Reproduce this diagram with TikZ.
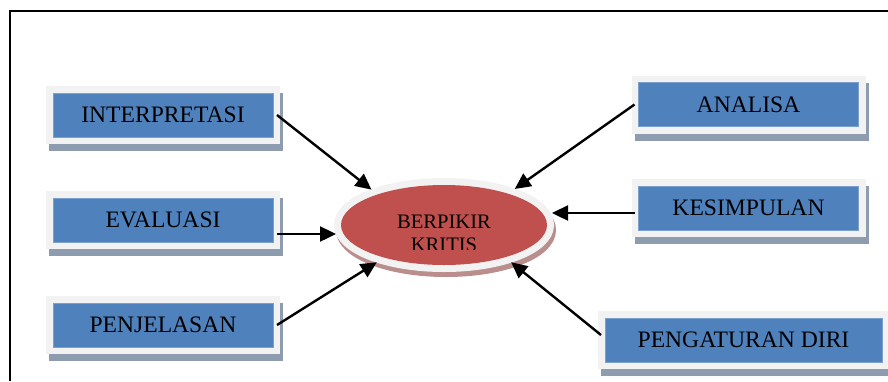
\documentclass[tikz,border=0pt]{standalone}
\usepackage{fontspec}
\setmainfont{Liberation Serif}
\usetikzlibrary{arrows.meta,shapes.geometric,shadows}

\definecolor{boxblue}{HTML}{4F81BD}
\definecolor{rimgray}{HTML}{F2F2F2}
\definecolor{boxshadow}{HTML}{8E9CB0}
\definecolor{kritred}{HTML}{C0504D}
\definecolor{kritshadow}{HTML}{B98E8C}

\begin{document}
\begin{tikzpicture}[x=0.5pt, y=-0.5pt,
        aspek/.style={rectangle, fill=boxblue, draw=boxblue!75!white, line width=0.4pt,
            minimum width=110pt, minimum height=22pt, inner sep=0pt, outer sep=2pt,
            font=\fontsize{11.8}{14}\selectfont,
            general shadow={fill=boxshadow, draw=boxshadow, line width=7pt,
                shadow xshift=1.5pt, shadow yshift=-3.5pt},
            preaction={draw=rimgray, line width=7pt}},
        pusat/.style={ellipse, fill=kritred, minimum width=103pt, minimum height=40pt,
            inner sep=0pt, outer sep=3.5pt,
            general shadow={fill=kritshadow, draw=kritshadow, line width=7pt,
                shadow xshift=1pt, shadow yshift=-2.5pt},
            preaction={draw=rimgray, line width=7pt}},
        panah/.style={draw=black, line width=1.2pt, -{Triangle[length=8pt, width=7.5pt]}}]

    \useasboundingbox (0,0) rectangle (888,381);

    % bingkai
    \draw[line width=1.4pt] (10,381) -- (10,11) -- (888,11);

    % pusat
    \node[pusat] (krit) at (444,225) {};
    \begin{scope}
        \clip (300,180) rectangle (590,249);
        \node[align=center, font=\fontsize{10.3}{11.5}\selectfont] (kritlabel) at (444,233) {BERPIKIR\\KRITIS};
    \end{scope}

    % kiri
    \node[aspek] (interpretasi) at (163,115) {INTERPRETASI};
    \node[aspek] (evaluasi) at (163,220) {EVALUASI};
    \node[aspek] (penjelasan) at (163,325) {PENJELASAN};

    % kanan
    \node[aspek] (analisa) at (748.5,104.5) {ANALISA};
    \node[aspek] (kesimpulan) at (748.5,208) {KESIMPULAN};
    \node[aspek, minimum width=138.5pt] (pengaturan) at (743.5,340) {PENGATURAN DIRI};

    \draw[panah] (interpretasi.east) -- (krit.154.7);
    \draw[panah] ([yshift=-7pt]evaluasi.east) coordinate (ev) -- ([xshift=1pt]ev -| krit.west);
    \draw[panah] (penjelasan.east) -- (krit.209);
    \draw[panah] (analisa.west) -- (krit.27.6);
    \draw[panah] ([yshift=-2.5pt]kesimpulan.west) coordinate (ks) -- ([xshift=-1pt]ks -| krit.east);
    \draw[panah] ([yshift=2.5pt]pengaturan.west) -- (krit.331.6);
\end{tikzpicture}
\end{document}
